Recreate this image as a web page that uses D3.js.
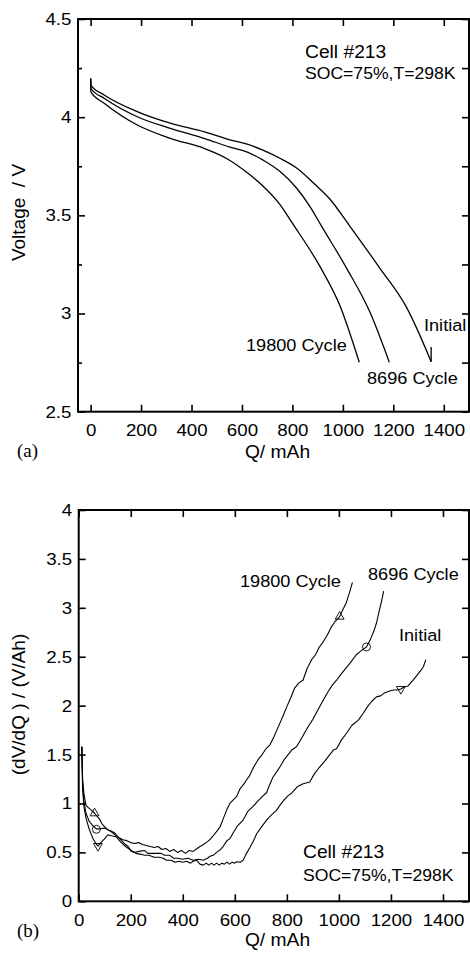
<!DOCTYPE html>
<html>
<head>
<meta charset="utf-8">
<script src="https://cdn.jsdelivr.net/npm/d3@7"></script>
<style>
html,body{margin:0;padding:0;background:#fff;}
svg{display:block;}
text{font-family:"Liberation Sans",Arial,Helvetica,sans-serif;fill:#000;}
</style>
</head>
<body>
<div id="chart"></div>
<script>
// ---------------- DATA ----------------
// (a) discharge curves: Q (mAh), Voltage (V)
const voltInitial = [[0,4.197],[1,4.163],[55,4.112],[187,4.027],[319,3.968],[452,3.925],[552,3.885],[624,3.862],[683,3.832],[750,3.791],[818,3.740],[889,3.658],[949,3.582],[1028,3.444],[1147,3.230],[1253,3.030],[1350,2.755]];
const voltInitialTail = [[1350,2.755],[1350,2.830]]; // relaxation after cut-off
const volt8696 = [[0,4.197],[1,4.146],[55,4.095],[187,4.001],[319,3.942],[452,3.891],[552,3.848],[624,3.821],[684,3.781],[750,3.724],[817,3.638],[869,3.546],[916,3.444],[1015,3.230],[1108,3.005],[1184,2.752]];
const volt19800 = [[0,4.197],[1,4.129],[55,4.070],[187,3.959],[319,3.891],[452,3.840],[544,3.786],[624,3.714],[684,3.648],[750,3.556],[803,3.454],[909,3.240],[988,3.041],[1065,2.752]];

// (b) dV/dQ curves: Q (mAh), dV/dQ (V/Ah)
const dvdq19800 = [[12,1.58],[15,1.25],[20,1.10],[28,0.98],[40,0.95],[50,0.93],[61,0.90],[70,0.87],[80,0.84],[90,0.79],[100,0.76],[112,0.73],[125,0.71],[140,0.68],[155,0.65],[170,0.63],[185,0.62],[200,0.60],[215,0.59],[230,0.60],[245,0.58],[260,0.57],[275,0.56],[290,0.55],[305,0.56],[320,0.53],[335,0.54],[350,0.51],[365,0.53],[380,0.50],[395,0.52],[410,0.49],[425,0.52],[440,0.51],[455,0.54],[466,0.56],[480,0.58],[495,0.61],[504,0.63],[520,0.68],[535,0.73],[543,0.76],[555,0.84],[568,0.93],[581,1.00],[595,1.04],[607,1.07],[620,1.15],[635,1.20],[645,1.24],[658,1.29],[672,1.37],[690,1.45],[705,1.50],[720,1.56],[735,1.60],[750,1.68],[765,1.77],[786,1.90],[800,1.99],[815,2.08],[830,2.18],[845,2.23],[862,2.26],[878,2.38],[895,2.47],[910,2.52],[925,2.60],[939,2.65],[955,2.72],[970,2.80],[985,2.86],[1003,2.91],[1015,2.98],[1028,3.05],[1040,3.15],[1052,3.26]];
const dvdq8696 = [[12,1.58],[15,1.20],[20,1.02],[28,0.90],[40,0.82],[55,0.77],[68,0.74],[80,0.74],[99,0.75],[115,0.73],[130,0.71],[138,0.70],[150,0.66],[165,0.62],[180,0.58],[190,0.56],[202,0.51],[215,0.50],[230,0.51],[253,0.52],[265,0.49],[290,0.49],[317,0.49],[330,0.47],[350,0.47],[365,0.44],[381,0.44],[400,0.43],[420,0.44],[440,0.42],[460,0.43],[479,0.42],[495,0.44],[505,0.46],[517,0.47],[530,0.50],[545,0.53],[555,0.56],[570,0.62],[581,0.64],[594,0.70],[610,0.77],[632,0.83],[650,0.92],[670,0.97],[690,1.03],[705,1.07],[722,1.11],[735,1.20],[747,1.27],[760,1.32],[775,1.38],[790,1.45],[805,1.50],[820,1.55],[837,1.58],[855,1.66],[870,1.73],[885,1.80],[900,1.86],[914,1.93],[930,2.01],[945,2.08],[960,2.15],[975,2.21],[991,2.26],[1005,2.31],[1020,2.36],[1035,2.41],[1050,2.46],[1067,2.52],[1080,2.55],[1095,2.58],[1106,2.60],[1120,2.67],[1134,2.76],[1145,2.85],[1155,2.97],[1165,3.08],[1172,3.17]];
const dvdqInitial = [[12,1.58],[15,1.15],[20,0.97],[28,0.85],[40,0.74],[55,0.64],[66,0.59],[74,0.565],[85,0.60],[100,0.64],[112,0.68],[125,0.67],[144,0.66],[160,0.61],[180,0.56],[202,0.52],[220,0.49],[240,0.48],[253,0.47],[270,0.47],[290,0.45],[310,0.45],[325,0.44],[337,0.42],[355,0.42],[370,0.40],[385,0.41],[400,0.40],[415,0.41],[430,0.39],[440,0.41],[453,0.42],[466,0.38],[479,0.37],[490,0.39],[500,0.37],[510,0.39],[520,0.37],[530,0.39],[540,0.37],[550,0.39],[560,0.38],[570,0.40],[580,0.38],[590,0.40],[600,0.39],[607,0.405],[620,0.40],[632,0.42],[645,0.49],[658,0.55],[672,0.62],[684,0.69],[700,0.75],[722,0.83],[740,0.88],[760,0.93],[773,0.98],[790,1.04],[805,1.08],[820,1.11],[840,1.17],[860,1.20],[888,1.22],[905,1.30],[925,1.37],[945,1.43],[965,1.50],[980,1.55],[991,1.56],[1010,1.65],[1030,1.72],[1050,1.80],[1074,1.85],[1093,1.92],[1110,1.99],[1125,2.04],[1144,2.09],[1160,2.10],[1175,2.13],[1195,2.15],[1210,2.16],[1225,2.16],[1238,2.17],[1250,2.19],[1265,2.20],[1285,2.26],[1300,2.31],[1315,2.36],[1325,2.40],[1334,2.47]];

// markers on the dV/dQ curves
const markers19800 = [[61,0.90],[1003,2.91]];   // triangle up
const markers8696 = [[68,0.736],[1106,2.60]];    // circle
const markersInitial = [[74,0.565],[1238,2.17]]; // triangle down

// tick values / labels
const qTicks = [0,200,400,600,800,1000,1200,1400];
const voltTicks = [2.5,3,3.5,4,4.5];
const voltMinor = [2.75,3.25,3.75,4.25];
const dvdqTicks = [0,0.5,1,1.5,2,2.5,3,3.5,4];

// text
const seriesNames = ["Initial","8696 Cycle","19800 Cycle"];
const cellText = "Cell #213";
const condText = "SOC=75%,T=298K";

// ---------------- DRAW ----------------
const W = 470, H = 955;
const SX = 1.1; // horizontal text stretch
const svg = d3.select("#chart").append("svg").attr("width", W).attr("height", H);

function label(x, y, txt, size, anchor, opts = {}) {
  const t = svg.append("text")
    .attr("transform", `translate(${x},${y})` + (opts.rotate ? ` rotate(${opts.rotate})` : ` scale(${opts.sx || SX},1)`))
    .attr("text-anchor", anchor || "start")
    .style("font-size", size + "px")
    .style("white-space", "pre")
    .text(txt);
  if (opts.serif) t.style("font-family", '"Liberation Serif","Times New Roman",serif');
  return t;
}

function panel(cfg) {
  const x = d3.scaleLinear().domain(cfg.xDomain).range([cfg.left, cfg.right]);
  const y = d3.scaleLinear().domain(cfg.yDomain).range([cfg.bottom, cfg.top]);
  const g = svg.append("g");
  const fs = "17px";
  const ax = g.append("g").attr("transform", `translate(0,${cfg.bottom})`)
    .call(d3.axisBottom(x).tickValues(qTicks).tickSizeInner(-7).tickSizeOuter(0).tickPadding(15).tickFormat(d3.format("d")));
  g.append("g").attr("transform", `translate(0,${cfg.top})`)
    .call(d3.axisTop(x).tickValues(qTicks).tickSizeInner(-7).tickSizeOuter(0).tickFormat(""));
  const ay = g.append("g").attr("transform", `translate(${cfg.left},0)`)
    .call(d3.axisLeft(y).tickValues(cfg.yTicks).tickSizeInner(-7).tickSizeOuter(0).tickPadding(6).tickFormat(d => String(d)));
  if (cfg.yMinor) {
    g.append("g").attr("transform", `translate(${cfg.left},0)`)
      .call(d3.axisLeft(y).tickValues(cfg.yMinor).tickSizeInner(-4).tickSizeOuter(0).tickFormat(""));
  }
  g.append("g").attr("transform", `translate(${cfg.right},0)`)
    .call(d3.axisRight(y).tickValues(cfg.yRight).tickSizeInner(-7).tickSizeOuter(0).tickFormat(""));
  g.selectAll(".domain").remove();
  g.selectAll(".tick line").attr("stroke", "#000").attr("stroke-width", 1.6);
  ax.selectAll("text").style("font-size", fs).attr("transform", `scale(${SX},1)`).attr("dy", "0.55em");
  ay.selectAll("text").style("font-size", fs).attr("transform", `scale(${SX},1)`);
  g.selectAll("text").style("font-family", '"Liberation Sans",Arial,sans-serif').attr("fill", "#000");
  g.append("rect").attr("x", cfg.left).attr("y", cfg.top)
    .attr("width", cfg.right - cfg.left).attr("height", cfg.bottom - cfg.top)
    .attr("fill", "none").attr("stroke", "#000").attr("stroke-width", 2);
  return {x, y, g};
}

// ---- panel (a)
const pa = panel({xDomain: [-50, 1500], yDomain: [2.5, 4.5], left: 78, right: 469, top: 19, bottom: 411.7,
  yTicks: voltTicks, yMinor: voltMinor, yRight: voltTicks.concat(voltMinor)});
const lineA = d3.line().x(d => pa.x(d[0])).y(d => pa.y(d[1])).curve(d3.curveMonotoneX);
const lineA0 = d3.line().x(d => pa.x(d[0])).y(d => pa.y(d[1]));
[voltInitial, volt8696, volt19800].forEach(s => {
  pa.g.append("path").datum(s).attr("d", lineA).attr("fill", "none").attr("stroke", "#000").attr("stroke-width", 1.3);
});
pa.g.append("path").datum(voltInitialTail).attr("d", lineA0).attr("fill", "none").attr("stroke", "#000").attr("stroke-width", 1.3);
label(305, 58, cellText, 17.5, "start");
label(305, 79, condText, 16, "start");
label(424, 331, seriesNames[0], 16.5, "start");
label(367, 384, seriesNames[1], 16.5, "start");
label(246, 351, seriesNames[2], 16.5, "start");
label(25, 212.5, "Voltage\u00A0 / V", 19, "middle", {rotate: -90});
label(277.5, 458, "Q/ mAh", 17.5, "middle");
label(17, 457, "(a)", 18, "start", {serif: true, sx: 1.05});

// ---- panel (b)
const pb = panel({xDomain: [0, 1500], yDomain: [0, 4], left: 78.7, right: 469, top: 510, bottom: 901.3,
  yTicks: dvdqTicks, yMinor: null, yRight: dvdqTicks});
const lineB = d3.line().x(d => pb.x(d[0])).y(d => pb.y(d[1]));
[dvdqInitial, dvdq8696, dvdq19800].forEach(s => {
  pb.g.append("path").datum(s).attr("d", lineB).attr("fill", "none").attr("stroke", "#000").attr("stroke-width", 1.1).attr("stroke-linejoin", "round");
});
const triUp = d3.symbol().type(d3.symbolTriangle).size(34);
pb.g.selectAll(".mu").data(markers19800).join("path")
  .attr("d", triUp).attr("transform", d => `translate(${pb.x(d[0])},${pb.y(d[1])})`)
  .attr("fill", "none").attr("stroke", "#000").attr("stroke-width", 0.9);
pb.g.selectAll(".mc").data(markers8696).join("circle")
  .attr("cx", d => pb.x(d[0])).attr("cy", d => pb.y(d[1])).attr("r", 4)
  .attr("fill", "none").attr("stroke", "#000").attr("stroke-width", 0.9);
pb.g.selectAll(".md").data(markersInitial).join("path")
  .attr("d", triUp).attr("transform", d => `translate(${pb.x(d[0])},${pb.y(d[1])}) rotate(180)`)
  .attr("fill", "none").attr("stroke", "#000").attr("stroke-width", 0.9);

label(240, 587, seriesNames[2], 16.5, "start");
label(368, 580, seriesNames[1], 16.5, "start");
label(399, 641, seriesNames[0], 16.5, "start");
label(303, 858, cellText, 17.5, "start");
label(303, 881, condText, 16, "start");
label(25, 704.5, "(dV/dQ ) / (V/Ah)", 19, "middle", {rotate: -90});
label(277.5, 946, "Q/ mAh", 17.5, "middle");
label(17, 937, "(b)", 18, "start", {serif: true, sx: 1.05});
</script>
</body>
</html>
